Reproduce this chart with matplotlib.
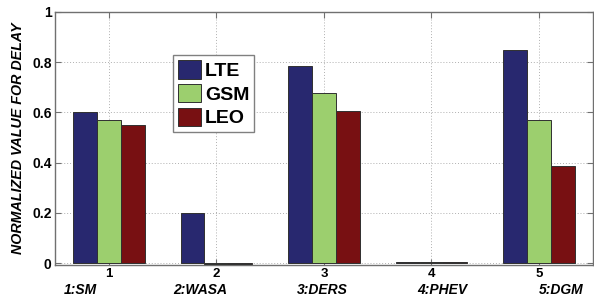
import numpy as np
import matplotlib
matplotlib.use("Agg")
import matplotlib.pyplot as plt
import matplotlib.transforms as mtransforms

# ---------------------------  DATA  --------------------------- #
groups = [1, 2, 3, 4, 5]
group_names = ["1:SM", "2:WASA", "3:DERS", "4:PHEV", "5:DGM"]
lte = [0.60, 0.20, 0.785, 0.003, 0.848]
gsm = [0.572, -0.005, 0.676, 0.003, 0.572]
leo = [0.552, -0.005, 0.604, 0.003, 0.389]
series_names = ["LTE", "GSM", "LEO"]
colors = ["#28286f", "#9ccf6e", "#781012"]
y_ticks = [0, 0.2, 0.4, 0.6, 0.8, 1]
y_ticklabels = ["0", "0.2", "0.4", "0.6", "0.8", "1"]

# left edge of each group name, in x data units (MATLAB-style spaced label)
name_x = [0.583, 1.603, 2.753, 3.866, 4.998]

plt.rcParams['font.family'] = ['Liberation Sans', 'DejaVu Sans']
tick_font = ['Liberation Sans Narrow', 'Liberation Sans', 'DejaVu Sans']

# ---------------------------  PLOT  --------------------------- #
fig = plt.figure(figsize=(5.94, 3.0), dpi=100)
ax = fig.add_axes([0.0926, 0.1167, 0.9054, 0.8433])

x = np.array(groups, dtype=float)
w = 0.222
for k, (vals, name, c) in enumerate(zip([lte, gsm, leo], series_names, colors)):
    ax.bar(x + (k - 1) * w, vals, width=w, color=c, edgecolor="#303030",
           linewidth=0.7, label=name, zorder=3)

ax.set_xlim(0.5, 5.5)
ax.set_ylim(-0.007, 1.0)
ax.set_xticks(groups)
ax.set_xticklabels([str(g) for g in groups], fontsize=9.5, fontweight='bold',
                   family=tick_font)
ax.set_yticks(y_ticks)
ax.set_yticklabels(y_ticklabels, fontsize=10, fontweight='bold', family=tick_font)
ax.tick_params(axis='both', direction='in', length=4, color='#707070',
               top=True, right=True, width=0.8)
ax.tick_params(axis='x', pad=2.5)
ax.tick_params(axis='y', pad=2.5)
for s in ax.spines.values():
    s.set_color('#707070')
    s.set_linewidth(1.0)
ax.grid(True, linestyle=(0, (1, 2)), color='#b0b0b0', linewidth=0.7, zorder=0)
ax.set_axisbelow(True)

ax.set_ylabel("NORMALIZED VALUE FOR DELAY", fontsize=10.3, fontweight='bold',
              fontstyle='italic', labelpad=5)

trans = mtransforms.blended_transform_factory(ax.transData, ax.transAxes)
for nx, nm in zip(name_x, group_names):
    ax.text(nx, -0.097, nm, transform=trans, ha='left', va='center',
            fontsize=10, fontweight='bold', fontstyle='italic')

leg = ax.legend(loc='upper left', bbox_to_anchor=(0.219, 0.830), borderaxespad=0,
                prop={'size': 14, 'weight': 'bold'}, fancybox=False,
                edgecolor='#808080', framealpha=1, handlelength=1.2,
                handleheight=1.1, handletextpad=0.2, labelspacing=0.2,
                borderpad=0.25)
leg.get_frame().set_linewidth(1.0)

fig.savefig("out.png", dpi=100)
